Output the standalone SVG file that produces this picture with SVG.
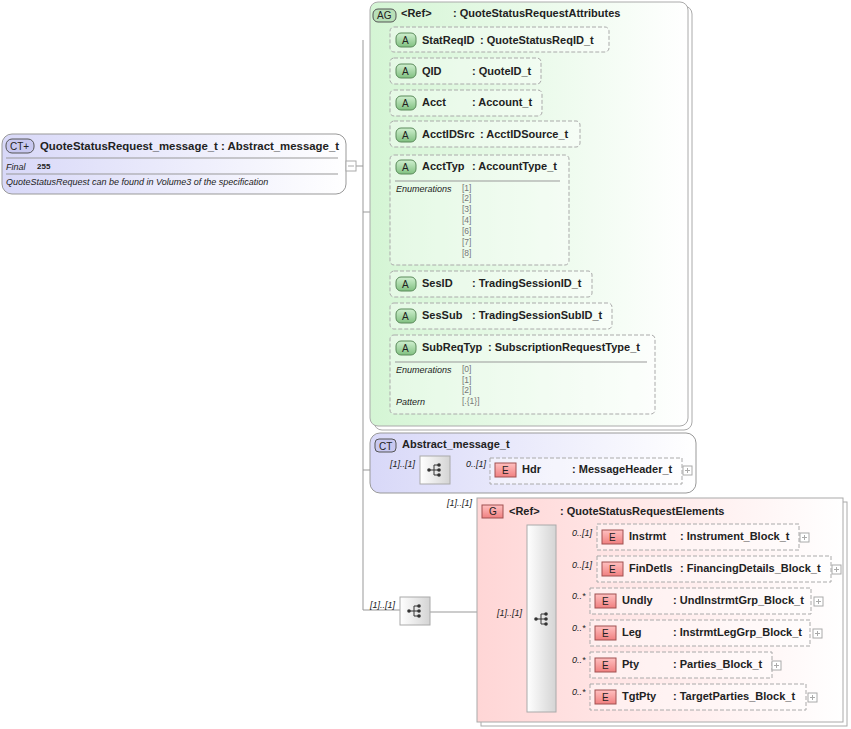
<svg xmlns="http://www.w3.org/2000/svg" width="851" height="729" viewBox="0 0 851 729">
<defs>
<linearGradient id="gG" x1="0" y1="0" x2="1" y2="0"><stop offset="0" stop-color="#d4f5d4"/><stop offset="1" stop-color="#ffffff"/></linearGradient>
<linearGradient id="gB" x1="0" y1="0" x2="1" y2="0"><stop offset="0" stop-color="#d8d8f8"/><stop offset="1" stop-color="#ffffff"/></linearGradient>
<linearGradient id="gP" x1="0" y1="0" x2="1" y2="0"><stop offset="0" stop-color="#ffd6d6"/><stop offset="1" stop-color="#ffffff"/></linearGradient>
<linearGradient id="gS" x1="0" y1="0" x2="1" y2="0"><stop offset="0" stop-color="#ffffff"/><stop offset="1" stop-color="#d4d4d4"/></linearGradient>
<linearGradient id="gE" x1="0" y1="0" x2="0" y2="1"><stop offset="0" stop-color="#ffc0c0"/><stop offset="1" stop-color="#f08080"/></linearGradient>
<linearGradient id="gA" x1="0" y1="0" x2="0" y2="1"><stop offset="0" stop-color="#d0f0d0"/><stop offset="1" stop-color="#80c080"/></linearGradient>
<g id="seq"><circle cx="-6" cy="0" r="1.8" fill="#333"/><path d="M-6 0H-1M-1 -5V5M-1 -5H4M-1 0H4M-1 5H4" stroke="#333" fill="none"/><circle cx="4" cy="-5" r="1.8" fill="#333"/><circle cx="4" cy="0" r="1.8" fill="#333"/><circle cx="4" cy="5" r="1.8" fill="#333"/></g>
<g id="plus"><rect x="0" y="0" width="9" height="9" fill="#fff" stroke="#aaa"/><path d="M2 4.5H7M4.5 2V7" stroke="#aaa"/></g>
</defs>
<style>
text{font-family:"Liberation Sans",Arial,sans-serif;font-size:11px;fill:#222}
.b{font-weight:bold}
.i{font-style:italic;font-size:9px}
.v{font-size:8.5px;fill:#777}
.att{fill:#fff;fill-opacity:0.35;stroke:#aaa;stroke-dasharray:4 2}
.el{fill:#fff;fill-opacity:0.4;stroke:#aaa;stroke-dasharray:4 2}
.ln{stroke:#999;fill:none}
.bA{fill:url(#gA);stroke:#5a8a5a}
.bE{fill:url(#gE);stroke:#a05050}
</style>
<g id="connectors">
<path class="ln" d="M356 166H363M363 40V610M363 212H370M381 40V375M381 40H390M381 71H390M381 102H390M381 134H390M381 212H390M381 284H390M381 316H390M381 375H390M363 470H420M450 470H490M363 610H400M430 612H527M556 537H597M556 569H597M556 601H590M556 633H590M556 665H590M556 697H590"/>
</g>
<g id="main">
<rect x="2" y="134" width="344" height="60" rx="10" fill="url(#gB)" stroke="#999"/>
<rect x="6" y="139" width="28" height="14" rx="6" fill="#c8c8f0" stroke="#555"/>
<text x="10" y="150" style="font-size:10px">CT+</text>
<text x="40" y="150" class="b" style="font-size:11.4px">QuoteStatusRequest_message_t : Abstract_message_t</text>
<path d="M6 158H338M6 174H338" stroke="#999"/>
<text x="6" y="170" class="i">Final</text><text x="37" y="169" class="b" style="font-size:8px">255</text>
<text x="6" y="185" class="i">QuoteStatusRequest can be found in Volume3 of the specification</text>
<rect x="346" y="161" width="10" height="10" fill="#fff" stroke="#aaa"/><path d="M348 166H354" stroke="#aaa"/>
</g>
<g id="ag">
<rect x="374" y="6" width="318" height="424" rx="8" fill="#fff" stroke="#aaa"/>
<rect x="370" y="2" width="318" height="424" rx="8" fill="url(#gG)" stroke="#aaa"/>
<rect x="373" y="9" width="23" height="13" rx="5" fill="#b8e0b8" stroke="#555"/>
<text x="377" y="19" style="font-size:10px">AG</text>
<text x="401" y="17" class="b">&lt;Ref&gt;</text><text x="453" y="17" class="b">: QuoteStatusRequestAttributes</text>
</g>
<g id="StatReqID"><rect class="att" x="390" y="27" width="219" height="25" rx="4"/><rect class="bA" x="396" y="33" width="20" height="14" rx="5"/><text x="402" y="44" style="font-size:10px">A</text><text x="422" y="44" class="b">StatReqID</text><text x="480" y="44" class="b">: QuoteStatusReqID_t</text></g>
<g id="QID"><rect class="att" x="390" y="58" width="151" height="26" rx="4"/><rect class="bA" x="396" y="64" width="20" height="14" rx="5"/><text x="402" y="75" style="font-size:10px">A</text><text x="422" y="75" class="b">QID</text><text x="472" y="75" class="b">: QuoteID_t</text></g>
<g id="Acct"><rect class="att" x="390" y="90" width="152" height="26" rx="4"/><rect class="bA" x="396" y="96" width="20" height="14" rx="5"/><text x="402" y="107" style="font-size:10px">A</text><text x="422" y="106" class="b">Acct</text><text x="472" y="106" class="b">: Account_t</text></g>
<g id="AcctIDSrc"><rect class="att" x="390" y="121" width="190" height="26" rx="4"/><rect class="bA" x="396" y="128" width="20" height="14" rx="5"/><text x="402" y="139" style="font-size:10px">A</text><text x="422" y="138" class="b">AcctIDSrc</text><text x="480" y="138" class="b">: AcctIDSource_t</text></g>
<g id="AcctTyp"><rect class="att" x="390" y="155" width="179" height="110" rx="4"/><rect class="bA" x="396" y="160" width="20" height="14" rx="5"/><text x="402" y="171" style="font-size:10px">A</text><text x="422" y="170" class="b">AcctTyp</text><text x="472" y="170" class="b">: AccountType_t</text>
<path d="M395 181H560" stroke="#999"/><text x="396" y="192" class="i">Enumerations</text>
<text class="v" x="462" y="191">[1]</text><text class="v" x="462" y="201">[2]</text><text class="v" x="462" y="212">[3]</text><text class="v" x="462" y="223">[4]</text><text class="v" x="462" y="234">[6]</text><text class="v" x="462" y="245">[7]</text><text class="v" x="462" y="256">[8]</text></g>
<g id="SesID"><rect class="att" x="390" y="271" width="202" height="26" rx="4"/><rect class="bA" x="396" y="277" width="20" height="14" rx="5"/><text x="402" y="288" style="font-size:10px">A</text><text x="422" y="287" class="b">SesID</text><text x="472" y="287" class="b">: TradingSessionID_t</text></g>
<g id="SesSub"><rect class="att" x="390" y="303" width="222" height="26" rx="4"/><rect class="bA" x="396" y="309" width="20" height="14" rx="5"/><text x="402" y="320" style="font-size:10px">A</text><text x="422" y="319" class="b">SesSub</text><text x="472" y="319" class="b">: TradingSessionSubID_t</text></g>
<g id="SubReqTyp"><rect class="att" x="390" y="335" width="265" height="79" rx="4"/><rect class="bA" x="396" y="341" width="20" height="14" rx="5"/><text x="402" y="352" style="font-size:10px">A</text><text x="422" y="351" class="b">SubReqTyp</text><text x="488" y="351" class="b">: SubscriptionRequestType_t</text>
<path d="M395 362H647" stroke="#999"/><text x="396" y="373" class="i">Enumerations</text>
<text class="v" x="462" y="372">[0]</text><text class="v" x="462" y="383">[1]</text><text class="v" x="462" y="393">[2]</text><text x="396" y="405" class="i">Pattern</text><text class="v" x="462" y="404">[.{1}]</text></g>
<g id="abstract">
<rect x="370" y="433" width="326" height="60" rx="10" fill="url(#gB)" stroke="#999"/>
<rect x="375" y="439" width="21" height="13" rx="4" fill="#c8c8f0" stroke="#555"/><text x="379" y="450" style="font-size:10px">CT</text>
<text x="402" y="448" class="b">Abstract_message_t</text>
<text x="390" y="467" class="i">[1]..[1]</text>
<rect x="420" y="456" width="30" height="28" fill="url(#gS)" stroke="#aaa"/><use href="#seq" x="435" y="470"/>
<text x="466" y="467" class="i">0..[1]</text>
<g id="Hdr"><rect class="el" x="490" y="458" width="192" height="26"/><rect class="bE" x="495" y="463" width="21" height="14"/><text x="502" y="474" style="font-size:10px">E</text><text x="522" y="473" class="b">Hdr</text><text x="572" y="473" class="b">: MessageHeader_t</text><use href="#plus" x="683" y="466"/></g>
</g>
<g id="seq1"><text x="370" y="608" class="i">[1]..[1]</text><rect x="400" y="597" width="30" height="28" fill="url(#gS)" stroke="#aaa"/><use href="#seq" x="415" y="611"/></g>
<g id="grp">
<rect x="481" y="502" width="366" height="224" fill="#fff" stroke="#aaa"/>
<rect x="477" y="498" width="366" height="224" fill="url(#gP)" stroke="#aaa"/>
<text x="447" y="506" class="i">[1]..[1]</text>
<rect x="482" y="505" width="21" height="13" fill="url(#gE)" stroke="#a05050"/><text x="489" y="515" style="font-size:10px">G</text>
<text x="509" y="515" class="b">&lt;Ref&gt;</text><text x="560" y="515" class="b">: QuoteStatusRequestElements</text>
<text x="497" y="616" class="i">[1]..[1]</text>
<rect x="527" y="525" width="29" height="187" fill="url(#gS)" stroke="#aaa"/><use href="#seq" x="542" y="619"/>
</g>
<g id="Instrmt"><text x="572" y="536" class="i">0..[1]</text><rect class="el" x="597" y="524" width="202" height="26"/><rect class="bE" x="602" y="530" width="21" height="14"/><text x="609" y="541" style="font-size:10px">E</text><text x="629" y="540" class="b">Instrmt</text><text x="680" y="540" class="b">: Instrument_Block_t</text><use href="#plus" x="800" y="533"/></g>
<g id="FinDetls"><text x="572" y="568" class="i">0..[1]</text><rect class="el" x="597" y="556" width="234" height="26"/><rect class="bE" x="602" y="562" width="21" height="14"/><text x="609" y="573" style="font-size:10px">E</text><text x="629" y="572" class="b">FinDetls</text><text x="680" y="572" class="b">: FinancingDetails_Block_t</text><use href="#plus" x="832" y="565"/></g>
<g id="Undly"><text x="572" y="599" class="i">0..*</text><rect class="el" x="590" y="588" width="221" height="26"/><rect class="bE" x="595" y="594" width="21" height="14"/><text x="602" y="605" style="font-size:10px">E</text><text x="622" y="604" class="b">Undly</text><text x="673" y="604" class="b">: UndInstrmtGrp_Block_t</text><use href="#plus" x="814" y="597"/></g>
<g id="Leg"><text x="572" y="631" class="i">0..*</text><rect class="el" x="590" y="620" width="220" height="26"/><rect class="bE" x="595" y="626" width="21" height="14"/><text x="602" y="637" style="font-size:10px">E</text><text x="622" y="636" class="b">Leg</text><text x="673" y="636" class="b">: InstrmtLegGrp_Block_t</text><use href="#plus" x="813" y="629"/></g>
<g id="Pty"><text x="572" y="663" class="i">0..*</text><rect class="el" x="590" y="652" width="182" height="26"/><rect class="bE" x="595" y="658" width="21" height="14"/><text x="602" y="669" style="font-size:10px">E</text><text x="622" y="668" class="b">Pty</text><text x="673" y="668" class="b">: Parties_Block_t</text><use href="#plus" x="772" y="661"/></g>
<g id="TgtPty"><text x="572" y="695" class="i">0..*</text><rect class="el" x="590" y="684" width="216" height="26"/><rect class="bE" x="595" y="690" width="21" height="14"/><text x="602" y="701" style="font-size:10px">E</text><text x="622" y="700" class="b">TgtPty</text><text x="673" y="700" class="b">: TargetParties_Block_t</text><use href="#plus" x="808" y="693"/></g>
</svg>
